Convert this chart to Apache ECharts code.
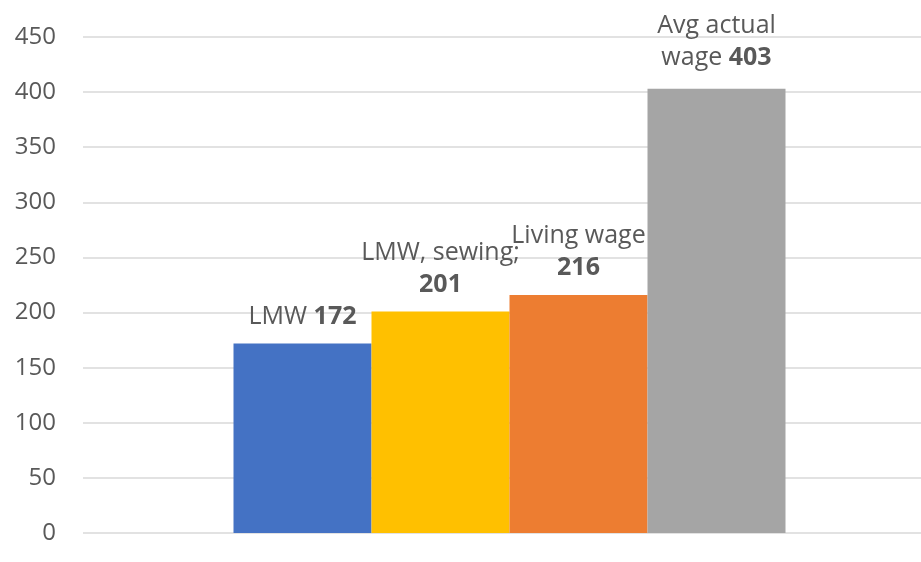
<!DOCTYPE html>
<html>
<head>
<meta charset="utf-8">
<script src="https://cdn.jsdelivr.net/npm/echarts@6/dist/echarts.min.js"></script>
<style>
  html, body { margin: 0; padding: 0; background: #fff; overflow: hidden; }
  /* plot area runs past the right edge of the window, like the cropped original */
  #chart { width: 936px; height: 562px; }
</style>
</head>
<body>
<div id="chart"></div>
<script>
  // data
  let seriesNames = ['LMW', 'LMW, sewing', 'Living wage', 'Avg actual wage'];
  let labelPrefix = ['LMW ', 'LMW, sewing;\n', 'Living wage\n', 'Avg actual\nwage '];
  let values = [172, 201, 216, 403];
  let colors = ['#4472C4', '#FFC000', '#ED7D31', '#A5A5A5'];
  let labelGap = [11, 11, 11, 15];
  let categories = [''];

  let chart = echarts.init(document.getElementById('chart'));

  let series = values.map((v, i) => {
    return {
      name: seriesNames[i],
      type: 'bar',
      data: [v],
      barWidth: 138,
      barGap: 0,
      itemStyle: { color: colors[i] },
      label: {
        show: true,
        position: 'top',
        distance: labelGap[i],
        formatter: () => labelPrefix[i] + '{b|' + v + '}',
        color: '#595959',
        fontFamily: 'Open Sans',
        fontSize: 25,
        lineHeight: 32,
        align: 'center',
        rich: {
          b: { fontWeight: 'bold', color: '#595959', fontFamily: 'Open Sans', fontSize: 25, lineHeight: 32 }
        }
      }
    }
  });

  chart.setOption({
    animation: false,
    grid: {
      left: 83,
      right: 0,
      top: 37,
      bottom: 29
    },
    xAxis: {
      type: 'category',
      data: categories,
      axisLine: { show: false },
      axisTick: { show: false },
      axisLabel: { show: false }
    },
    yAxis: {
      type: 'value',
      min: 0,
      max: 450,
      interval: 50,
      axisLine: { show: false },
      axisTick: { show: false },
      axisLabel: {
        color: '#595959',
        fontFamily: 'Open Sans',
        fontSize: 24,
        margin: 27
      },
      splitLine: { lineStyle: { color: '#d9d9d9', width: 1.5 } }
    },
    series: series
  });
</script>
</body>
</html>
